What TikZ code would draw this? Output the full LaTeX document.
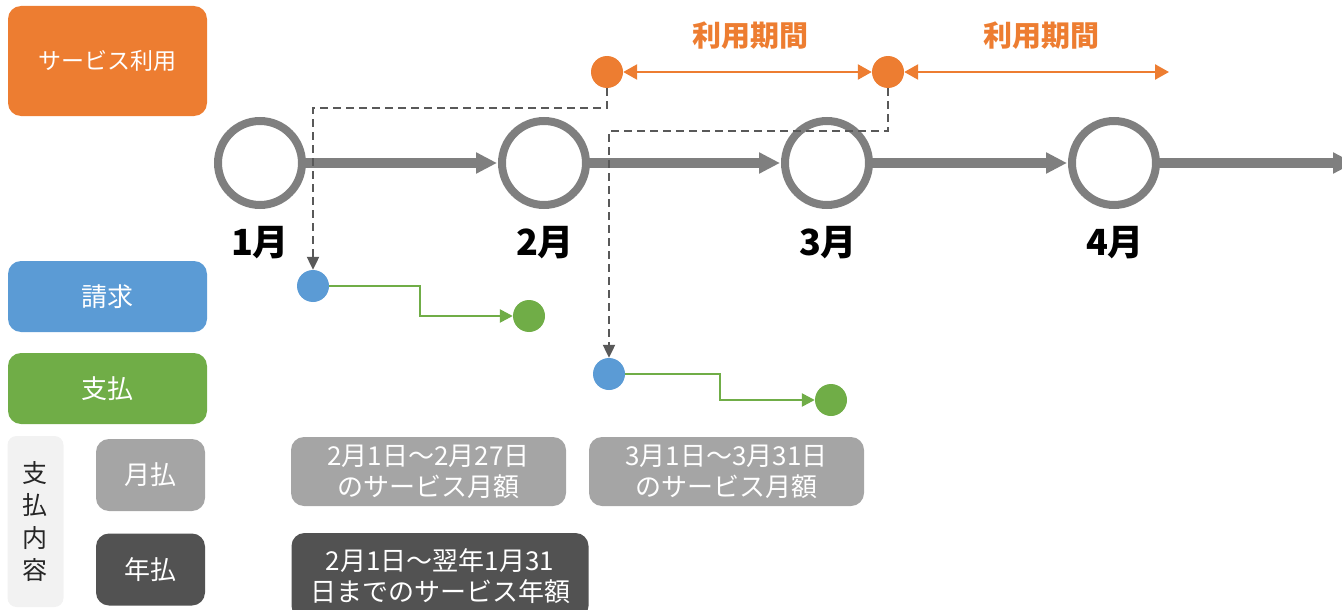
\documentclass[tikz,border=0pt]{standalone}
\usepackage{fontspec}
\setmainfont{Noto Sans CJK JP}
\usetikzlibrary{arrows.meta}
\definecolor{cOrange}{HTML}{ED7D31}
\definecolor{cBlue}{HTML}{5B9BD5}
\definecolor{cGreen}{HTML}{70AD47}
\definecolor{cRing}{HTML}{7F7F7F}
\definecolor{cLight}{HTML}{A5A5A5}
\definecolor{cDark}{HTML}{525252}
\definecolor{cCol}{HTML}{F2F2F2}
\definecolor{cDash}{HTML}{595959}
\tikzset{
  box/.style={rounded corners=13pt, inner sep=0pt, text=white, align=center,
    font=\fontsize{26}{31}\selectfont},
  ring/.style={circle, draw=cRing, line width=8pt, minimum size=84pt, inner sep=0pt},
  tl/.style={draw=cRing, line width=10pt, -{Triangle[length=21pt,width=20pt]}},
  month/.style={font=\fontsize{36}{38}\selectfont\bfseries, text=black},
  dotnode/.style={circle, minimum size=32pt, inner sep=0pt},
  oarr/.style={draw=cOrange, line width=2.5pt,
    {Triangle[length=14pt,width=15pt]}-{Triangle[length=14pt,width=15pt]}},
  olabel/.style={font=\fontsize{29}{31}\selectfont\bfseries, text=cOrange},
  dasharr/.style={draw=cDash, line width=2.2pt, dash pattern=on 8pt off 5pt,
    -{Triangle[length=13pt,width=12pt]}},
  garr/.style={draw=cGreen, line width=2.5pt, -{Triangle[length=13pt,width=13pt]}},
}
\begin{document}
\begin{tikzpicture}[x=1pt,y=-1pt]
\useasboundingbox (0,0) rectangle (1342,610);
% left category boxes
\node[box, fill=cOrange, minimum width=199pt, minimum height=110pt,
  font=\fontsize{23}{28}\selectfont] (svc) at (107.5,61) {サービス利用};
\node[box, fill=cBlue, minimum width=199pt, minimum height=71pt] (seikyu) at (107.5,296.5) {請求};
\node[box, fill=cGreen, minimum width=199pt, minimum height=71pt] (shiharai) at (107.5,388.5) {支払};
\node[box, fill=cCol, rounded corners=9pt, minimum width=56pt, minimum height=171pt, text=black!85,
  font=\fontsize{25}{32.5}\selectfont] (naiyo) at (35.5,521.5) {支\\払\\内\\容};
\node[box, fill=cLight, minimum width=109pt, minimum height=72pt] (tsuki) at (150.5,475) {月払};
\node[box, fill=cDark, minimum width=109pt, minimum height=72pt] (nen) at (150.5,569.5) {年払};
% content boxes
\node[box, fill=cLight, minimum width=275pt, minimum height=69pt] (c1) at (428.5,471.5) {2月1日〜2月27日\\のサービス月額};
\node[box, fill=cLight, minimum width=275pt, minimum height=69pt] (c2) at (726.5,471.5) {3月1日〜3月31日\\のサービス月額};
\node[box, fill=cDark, minimum width=297pt, minimum height=86pt] (c3) at (440,576) {2月1日〜翌年1月31\\日までのサービス年額};
% timeline
\node[ring] (m1) at (260,163) {};
\node[ring] (m2) at (544,163) {};
\node[ring] (m3) at (827,163) {};
\node[ring] (m4) at (1114,163) {};
\coordinate (tend) at (1354,163);
\draw[tl] (m1.east) -- ([xshift=-1pt]m2.west);
\draw[tl] (m2.east) -- ([xshift=-1pt]m3.west);
\draw[tl] (m3.east) -- ([xshift=-1pt]m4.west);
\draw[tl] (m4.east) -- (tend);
\node[month] (l1) at (260,243) {1月};
\node[month] (l2) at (545,243) {2月};
\node[month] (l3) at (828,243) {3月};
\node[month] (l4) at (1115,243) {4月};
% service usage
\node[dotnode, fill=cOrange] (o1) at (607,72) {};
\node[dotnode, fill=cOrange] (o2) at (888,72) {};
\coordinate (oend) at (1169,72);
\draw[oarr] (o1) -- (o2);
\draw[oarr] (o2) -- (oend);
\node[olabel] (p1) at (750,36) {利用期間};
\node[olabel] (p2) at (1041,36) {利用期間};
% billing / payment
\node[dotnode, fill=cBlue] (b1) at (313,286) {};
\node[dotnode, fill=cGreen] (g1) at (529,316) {};
\node[dotnode, fill=cBlue] (b2) at (609,374) {};
\node[dotnode, fill=cGreen] (g2) at (831,400) {};
\draw[dasharr] (o1) -- ++(0,36) -| (b1);
\draw[dasharr] (o2) -- ++(0,59) -| (b2);
\draw[garr] (b1.east) -- ++(91,0) |- (g1);
\draw[garr] (b2.east) -- ++(95,0) |- (g2);
\end{tikzpicture}
\end{document}
